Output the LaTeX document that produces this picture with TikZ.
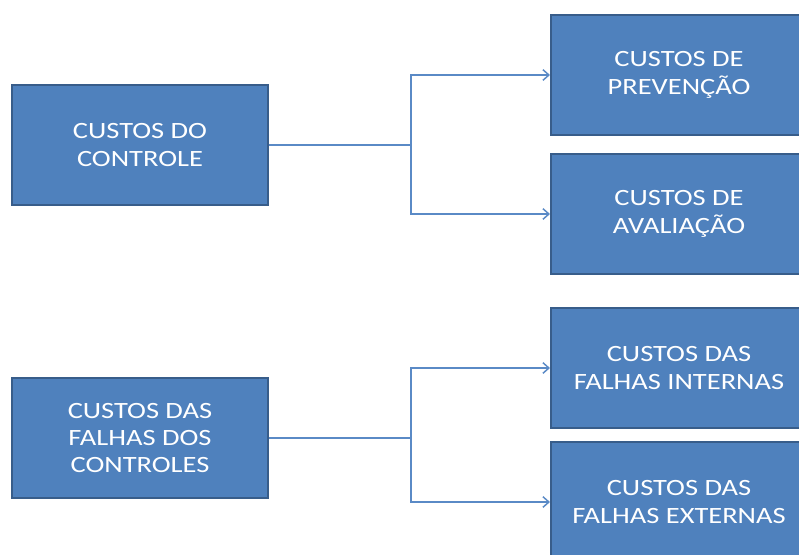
\documentclass[tikz,border=0pt]{standalone}
\usepackage{fontspec}
\setmainfont{Carlito}[FakeStretch=1.22]
\usetikzlibrary{arrows.meta}

\definecolor{boxfill}{HTML}{4F81BD}
\definecolor{boxline}{HTML}{385D8A}
\definecolor{linkcol}{HTML}{5A8AC6}

\tikzset{
  custo/.style={draw=boxline, line width=1.5pt, fill=boxfill, text=white,
    minimum width=192pt, minimum height=90pt, align=center,
    font=\fontsize{17.5}{20.5}\selectfont},
  link/.style={draw=linkcol, line width=1.1pt, -{Straight Barb[length=4.5pt,width=8pt]}}
}

\begin{document}
\begin{tikzpicture}[x=0.75pt, y=-0.75pt]
    \useasboundingbox (0,0) rectangle (799,554);
    \clip (0,0) rectangle (799,554);

    % Controle
    \node[custo] (ctrl) at (140,145) {CUSTOS DO\\CONTROLE};
    \node[custo] (prev) at (679,75) {CUSTOS DE\\PREVENÇÃO};
    \node[custo] (aval) at (679,214) {CUSTOS DE\\AVALIAÇÃO};

    \coordinate (j1) at (411,145);
    \draw[link] (ctrl.east) -- (j1) |- (prev.west);
    \draw[link] (j1) |- (aval.west);

    % Falhas
    \node[custo] (falha) at (140,438) {CUSTOS DAS\\FALHAS DOS\\CONTROLES};
    \node[custo] (inter) at (679,368) {CUSTOS DAS\\FALHAS INTERNAS};
    \node[custo] (exter) at (679,502) {CUSTOS DAS\\FALHAS EXTERNAS};

    \coordinate (j2) at (411,438);
    \draw[link] (falha.east) -- (j2) |- (inter.west);
    \draw[link] (j2) |- (exter.west);
\end{tikzpicture}
\end{document}
